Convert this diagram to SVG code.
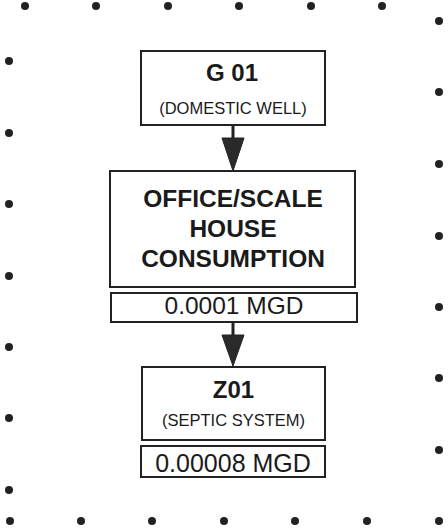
<svg xmlns="http://www.w3.org/2000/svg" width="448" height="530" viewBox="0 0 448 530">
<style>
.box{fill:#fff;stroke:#222;stroke-width:2}
.t{font-family:"Liberation Sans",Arial,sans-serif;fill:#1a1a1a;text-anchor:middle}
.b{font-weight:bold}
.dot{fill:#222}
.conn{stroke:#222;stroke-width:3}
.head{fill:#2a2a2a;stroke:#222;stroke-width:1}
</style>
<rect width="448" height="530" fill="#fff"/>
<g id="border-dots">
<circle class="dot" cx="25" cy="6" r="4"/><circle class="dot" cx="96" cy="6" r="4"/><circle class="dot" cx="168" cy="6" r="4"/><circle class="dot" cx="239" cy="6" r="4"/><circle class="dot" cx="311" cy="6" r="4"/><circle class="dot" cx="382" cy="6" r="4"/><circle class="dot" cx="439" cy="21" r="4"/>
<circle class="dot" cx="9" cy="61" r="4"/><circle class="dot" cx="9" cy="133" r="4"/><circle class="dot" cx="9" cy="204" r="4"/><circle class="dot" cx="9" cy="276" r="4"/><circle class="dot" cx="9" cy="347" r="4"/><circle class="dot" cx="9" cy="418" r="4"/><circle class="dot" cx="9" cy="490" r="4"/>
<circle class="dot" cx="439" cy="92" r="4"/><circle class="dot" cx="439" cy="164" r="4"/><circle class="dot" cx="439" cy="236" r="4"/><circle class="dot" cx="439" cy="307" r="4"/><circle class="dot" cx="439" cy="378" r="4"/><circle class="dot" cx="439" cy="450" r="4"/>
<circle class="dot" cx="10" cy="521" r="4"/><circle class="dot" cx="81" cy="521" r="4"/><circle class="dot" cx="152" cy="521" r="4"/><circle class="dot" cx="224" cy="521" r="4"/><circle class="dot" cx="295" cy="521" r="4"/><circle class="dot" cx="367" cy="521" r="4"/><circle class="dot" cx="439" cy="521" r="4"/>
</g>
<g id="connectors">
<line class="conn" x1="233" y1="125" x2="233" y2="140"/>
<polygon class="head" points="222,138 244,138 233,171"/>
<line class="conn" x1="233" y1="322" x2="233" y2="337"/>
<polygon class="head" points="222,335 244,335 233,366"/>
</g>
<g id="G01">
<rect class="box" x="141" y="51" width="184" height="74"/>
<text class="t b" x="232" y="81" font-size="24">G 01</text>
<text class="t" x="233" y="114" font-size="16.5">(DOMESTIC WELL)</text>
</g>
<g id="office">
<rect class="box" x="110" y="171" width="245" height="116"/>
<text class="t b" x="233" y="207" font-size="24.5">OFFICE/SCALE</text>
<text class="t b" x="233" y="237" font-size="24.5">HOUSE</text>
<text class="t b" x="233" y="267" font-size="24.5">CONSUMPTION</text>
</g>
<g id="flow1">
<rect class="box" x="111" y="293" width="246" height="29"/>
<text class="t" x="234" y="314" font-size="24.5">0.0001 MGD</text>
</g>
<g id="Z01">
<rect class="box" x="142" y="367" width="183" height="73"/>
<text class="t b" x="233.5" y="398" font-size="24">Z01</text>
<text class="t" x="233.5" y="426" font-size="16.5">(SEPTIC SYSTEM)</text>
</g>
<g id="flow2">
<rect class="box" x="141" y="446" width="184" height="31"/>
<text class="t" x="233" y="472" font-size="25">0.00008 MGD</text>
</g>
</svg>
